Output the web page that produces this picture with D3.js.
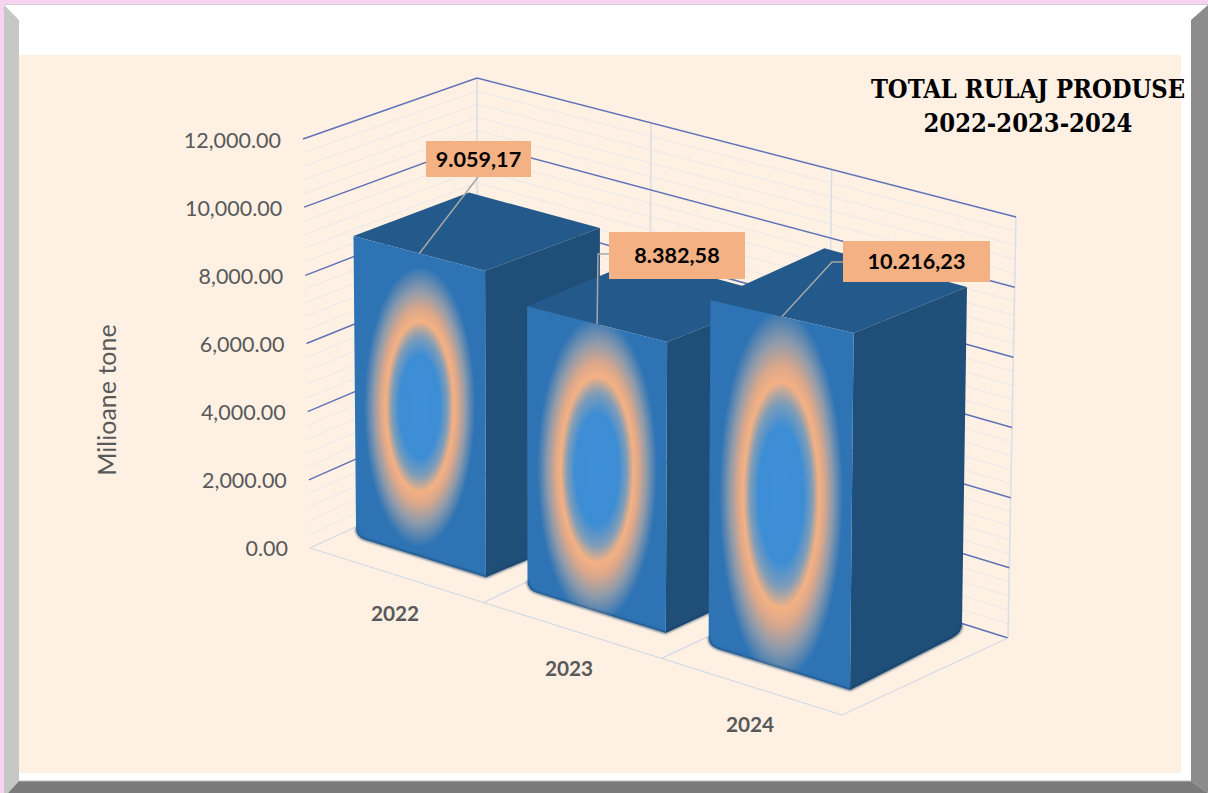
<!DOCTYPE html>
<html>
  <head>
    <title>Total rulaj produse</title>
    <meta charset="UTF-8" />
    <script src="https://d3js.org/d3.v7.min.js"></script>
    <style>
      body { margin: 0; background: #fff; }
      svg { display: block; }
    </style>
  </head>
  <body>
    <svg width="1208" height="793"></svg>
    <script>
      // data
      const categories = ["2022", "2023", "2024"]
      const values = [9059.17, 8382.58, 10216.23]
      const yTicks = [0, 2000, 4000, 6000, 8000, 10000, 12000]
      const yMinorStep = 400

      const svg = d3.select("svg")
      const roFormat = d3.formatLocale({ decimal: ",", thousands: ".", grouping: [3], currency: ["", ""] }).format(",.2f")

      // the box of the 3d chart, in page pixels
      const floorFL = [310, 548], floorBL = [477, 471], floorBR = [1008, 638], floorFR = [842, 715]
      const topFL = [303, 139], topBL = [477, 78], topBR = [1016, 217]
      const dividers = [0.323, 0.658] // category borders along the back wall

      const lerp = (a, b, t) => [a[0] + (b[0] - a[0]) * t, a[1] + (b[1] - a[1]) * t]
      const yT = d3.scaleLinear().domain([0, 12000]).range([0, 1])
      const leftWall = (d, v) => lerp(lerp(floorFL, floorBL, d), lerp(topFL, topBL, d), yT(v))
      const backWall = (u, v) => lerp(lerp(floorBL, floorBR, u), lerp(topBL, topBR, u), yT(v))

      // bars stand on a plane of their own: front edge and back edge of the row
      const rowFrontA = [356, 537], rowFrontB = [850, 690], rowBackA = [470, 492], rowBackB = [962, 633]
      const widen = d3.scalePow().exponent(1.04).domain([0, 1]).range([0, 1]) // later bars look a bit wider
      const barPlane = (u, d) => lerp(lerp(rowFrontA, rowFrontB, widen(u)), lerp(rowBackA, rowBackB, widen(u)), d)
      const xBand = d3.scaleBand().domain(categories).range([0, 1]).paddingInner(0.234)
      const hPx = d3.scaleLinear().domain([0, 12000]).range([0, 404])
      // small perspective corrections for the top of a bar
      const heightFix = d3.scaleLinear().domain([0.27, 0.35]).range([0.987, 1.006]).clamp(true)
      const cornerFix = d3.scaleLinear().domain([0, 1]).range([0.012, 0.032])
      const spreadFix = d3.scaleLinear().domain([356, 962]).range([-2.5, 5])

      // gradients, one per bar because the ring is not the same shape in each
      const defs = svg.append("defs")
      const glowScale = [[1.02, 1], [1.04, 1.14], [1.04, 1.16]]
      const stops = [
        [0, "#3e8fd9"], [0.3, "#3d8dd5"], [0.41, "#7f9db8"], [0.5, "#f4b183"],
        [0.57, "#dda88a"], [0.68, "#8f9bab"], [0.82, "#2e74b5"], [1, "#2e74b5"]
      ]
      categories.forEach((c, i) => {
        const s = glowScale[i]
        defs.append("radialGradient").attr("id", "glow" + c)
          .attr("cx", 0.5).attr("cy", 0.5).attr("r", 0.5)
          .attr("gradientTransform", "translate(0.5,0.5) scale(" + s[0] + "," + s[1] + ") translate(-0.5,-0.5)")
          .selectAll("stop").data(stops).enter().append("stop")
          .attr("offset", (d) => d[0]).attr("stop-color", (d) => d[1])
      })
      defs.append("filter").attr("id", "soft").append("feGaussianBlur").attr("stdDeviation", 1)

      // frame
      const frame = svg.append("g")
      frame.append("rect").attr("width", 1208).attr("height", 793).attr("fill", "#fff")
      frame.append("rect").attr("width", 1208).attr("height", 4).attr("fill", "#f8d3f1")
      frame.append("rect").attr("width", 4).attr("height", 793).attr("fill", "#f8d3f1")
      frame.append("line").attr("x1", 4).attr("x2", 1208).attr("y1", 4.5).attr("y2", 4.5).attr("stroke", "#d0d0d0")
      frame.append("polygon").attr("points", "4,5 19,20 19,781 8,793 4,793").attr("fill", "#c6c8c6")
      frame.append("polygon").attr("points", "1208,5 1191,20 1191,781 1208,793").attr("fill", "#8c8c8c")
      frame.append("polygon").attr("points", "8,793 19,781 1191,781 1208,793").attr("fill", "#7a7a7a")
      frame.append("line").attr("x1", 19).attr("x2", 1191).attr("y1", 781).attr("y2", 781).attr("stroke", "#bdbdbd")
      frame.append("rect").attr("x", 19).attr("y", 55).attr("width", 1162).attr("height", 718).attr("fill", "#fef1e4")

      // walls
      const g = svg.append("g").attr("fill", "none")
      const line = (a, b) => "M" + a[0] + "," + a[1] + "L" + b[0] + "," + b[1]
      const minorTicks = d3.range(0, 12001, yMinorStep).filter((d) => !yTicks.includes(d))
      g.selectAll(".minor").data(minorTicks).enter().append("path")
        .attr("d", (d) => "M" + leftWall(0, d) + "L" + leftWall(1, d) + "L" + backWall(1, d))
        .attr("stroke", "#dfe3ef").attr("stroke-width", 1).attr("stroke-dasharray", "2 1")
      ;[0, dividers[0], dividers[1], 1].forEach((u) => {
        g.append("path").attr("d", line(backWall(u, 0), backWall(u, 12000)))
          .attr("stroke", "#d9dde6").attr("stroke-width", 1.5)
      })
      g.selectAll(".major").data(yTicks).enter().append("path")
        .attr("d", (d) => d === 0
          ? line(backWall(0, 0), backWall(1, 0))
          : "M" + leftWall(0, d) + "L" + leftWall(1, d) + "L" + backWall(1, d))
        .attr("stroke", "#5f72b8").attr("stroke-width", 1.5)

      // floor
      const floorLines = [[floorFL, floorBL], [floorFL, floorFR], [floorFR, floorBR]]
      dividers.forEach((t) => floorLines.push([lerp(floorFL, floorFR, t + 0.003), lerp(floorBL, floorBR, t)]))
      g.selectAll(".floor").data(floorLines).enter().append("path")
        .attr("d", (d) => line(d[0], d[1]))
        .attr("stroke", "#d3d9e3").attr("stroke-width", 1.2)

      // y axis labels, each pushed out along the left wall
      const yPx = d3.scaleLinear().domain([0, 12000]).range([549, 141])
      const axisG = svg.append("g").call(d3.axisLeft(yPx).tickValues(yTicks).tickSize(0).tickPadding(0).tickFormat(d3.format(",.2f")))
      axisG.select(".domain").remove()
      axisG.selectAll(".tick")
        .attr("transform", (d) => "translate(" + (leftWall(0, d)[0] - 22) + "," + yPx(d) + ")")
      axisG.selectAll("text")
        .attr("font-family", "Lato").attr("font-size", 21.5).attr("fill", "#595959")
      svg.append("text")
        .attr("transform", "translate(107,400) rotate(-90)")
        .attr("text-anchor", "middle").attr("dy", "0.35em")
        .attr("font-family", "Lato").attr("font-size", 25).attr("fill", "#595959")
        .text("Milioane tone")

      // bars
      const bars = categories.map((c, i) => {
        const u0 = xBand(c), u1 = u0 + xBand.bandwidth()
        const h = hPx(values[i])
        const lift = (p, k) => [p[0] + spreadFix(p[0]), p[1] - h * k]
        const base = { fl: barPlane(u0, 0), fr: barPlane(u1, 0), br: barPlane(u1, 1), bl: barPlane(u0, 1) }
        const k = heightFix(u0 + 0.01)
        return {
          c, i, base,
          top: { fl: lift(base.fl, k), fr: lift(base.fr, k + cornerFix(u1)), br: lift(base.br, k), bl: lift(base.bl, k - 0.005) }
        }
      })
      const barG = svg.selectAll(".bar").data(bars).enter().append("g")
      const r = 9 // rounded foot of the bars
      barG.append("path") // top
        .attr("d", (d) => "M" + d.top.fl + "L" + d.top.fr + "L" + d.top.br + "L" + d.top.bl + "Z")
        .attr("fill", "#235a8b")
      const sideFoot = (d) => {
        const a = [d.base.br[0], d.base.br[1] - r], b = lerp(d.base.br, d.base.fr, 0.09)
        return { a, b, path: "M" + a + "Q" + d.base.br + " " + b + "L" + d.base.fr }
      }
      const frontFoot = (d) => {
        const a = [d.base.fl[0], d.base.fl[1] - r], b = lerp(d.base.fl, d.base.fr, 0.07)
        return { a, b, path: "M" + d.base.fr + "L" + b + "Q" + d.base.fl + " " + a }
      }
      barG.append("path") // side
        .attr("d", (d) => "M" + d.top.fr + "L" + d.top.br + "L" + sideFoot(d).a + sideFoot(d).path.slice(sideFoot(d).path.indexOf("Q")) + "Z")
        .attr("fill", "#1f4e79")
      barG.append("path") // front
        .attr("d", (d) => "M" + d.top.fl + "L" + d.top.fr + "L" + frontFoot(d).path.slice(1) + "Z")
        .attr("fill", (d) => "url(#glow" + d.c + ")")
      barG.append("path") // dark soft edge at the foot
        .attr("d", (d) => frontFoot(d).path + sideFoot(d).path)
        .attr("fill", "none").attr("stroke", "#163b5e").attr("stroke-width", 2).attr("opacity", 0.7)
        .attr("filter", "url(#soft)")

      // leader lines and value boxes
      const labelBoxes = [
        { x: 426, y: 141, w: 105, h: 36, lead: (m) => [[478, 177], m] },
        { x: 609, y: 232, w: 136, h: 47, lead: (m) => [[609, 254], [598, 254], m] },
        { x: 843, y: 241, w: 147, h: 41, lead: (m) => [[843, 262], [832, 262], m] }
      ]
      const labelG = svg.selectAll(".label").data(bars).enter().append("g")
      labelG.append("path")
        .attr("d", (d) => d3.line()(labelBoxes[d.i].lead(lerp(d.top.fl, d.top.fr, 0.5))))
        .attr("fill", "none").attr("stroke", "#a6a6a6").attr("stroke-width", 1.5)
      labelG.append("rect")
        .attr("x", (d) => labelBoxes[d.i].x).attr("y", (d) => labelBoxes[d.i].y)
        .attr("width", (d) => labelBoxes[d.i].w).attr("height", (d) => labelBoxes[d.i].h)
        .attr("fill", "#f4b183")
      labelG.append("text")
        .attr("x", (d) => labelBoxes[d.i].x + labelBoxes[d.i].w / 2)
        .attr("y", (d) => labelBoxes[d.i].y + labelBoxes[d.i].h / 2)
        .attr("dy", "0.35em").attr("text-anchor", "middle")
        .attr("font-family", "Lato").attr("font-weight", 700).attr("font-size", 21.6).attr("fill", "#000")
        .text((d) => roFormat(values[d.i]))

      // category labels
      const catX = d3.scaleOrdinal().domain(categories).range([395, 569, 750])
      const catY = d3.scaleOrdinal().domain(categories).range([614, 669, 725])
      svg.selectAll(".cat").data(categories).enter().append("text")
        .attr("x", (d) => catX(d)).attr("y", (d) => catY(d)).attr("dy", "0.35em")
        .attr("text-anchor", "middle")
        .attr("font-family", "Lato").attr("font-weight", 700).attr("font-size", 20.8).attr("fill", "#595959")
        .text((d) => d)

      // title
      const title = svg.append("text").attr("text-anchor", "middle")
        .attr("font-family", "DejaVu Serif").attr("font-stretch", "condensed").attr("font-weight", 700)
        .attr("font-size", 25.3).attr("fill", "#000")
      title.append("tspan").attr("x", 1028).attr("y", 98).text("TOTAL RULAJ PRODUSE")
      title.append("tspan").attr("x", 1028).attr("y", 132).text("2022-2023-2024")
    </script>
  </body>
</html>
